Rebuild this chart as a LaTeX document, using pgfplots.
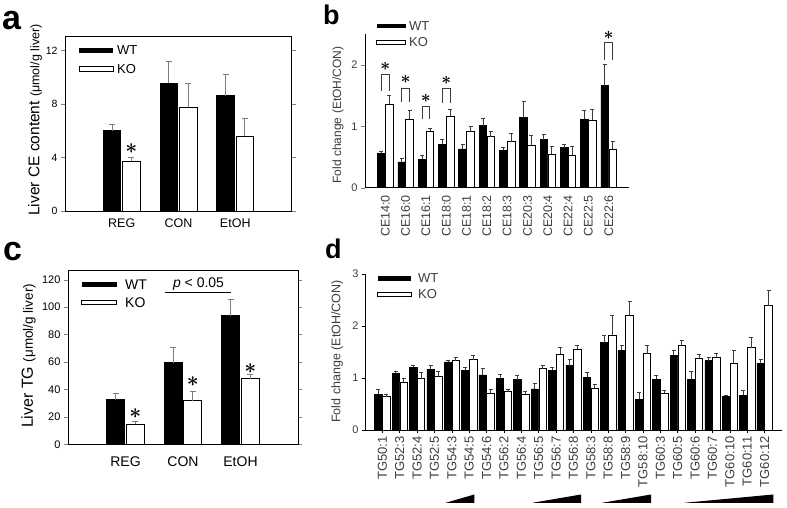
\documentclass[border=0pt]{standalone}
\usepackage{fontspec}
\setmainfont{Liberation Sans}
\usepackage{amsmath}
\usepackage{pgfplots}
\usepackage{pgfplotstable}
\pgfplotsset{compat=1.18}
\definecolor{txtgray}{RGB}{60,60,60}
\definecolor{errgray}{RGB}{125,125,125}
\newcommand\fsz[1]{\fontsize{#1}{#1}\selectfont}
\newcommand\sigstar[1]{\fontsize{#1}{#1}\selectfont$\boldsymbol{\ast}$}

\pgfplotstableread{
x wt wte ko koe
0 6.0 0.5 3.7 0.28
1 9.55 1.6 7.75 1.75
2 8.6 1.6 5.6 1.3
}\tabA

\pgfplotstableread{
x wt wte ko koe
0 32.4 4.4 14.8 1.7
1 59.6 11.0 31.9 6.6
2 93.7 11.9 47.7 3.4
}\tabC

\pgfplotstableread{
x wt wte ko koe
0 0.56 0.03 1.36 0.14
1 0.42 0.06 1.11 0.15
2 0.46 0.07 0.92 0.05
3 0.71 0.07 1.16 0.11
4 0.63 0.08 0.91 0.08
5 1.01 0.12 0.83 0.09
6 0.61 0.05 0.75 0.13
7 1.14 0.26 0.69 0.16
8 0.78 0.08 0.55 0.13
9 0.65 0.05 0.53 0.14
10 1.11 0.15 1.10 0.18
11 1.66 0.35 0.63 0.12
}\tabB

\pgfplotstableread{
x wt wte ko koe
0 0.69 0.09 0.64 0.05
1 1.09 0.03 0.92 0.07
2 1.21 0.04 0.99 0.11
3 1.17 0.07 1.03 0.10
4 1.31 0.02 1.33 0.07
5 1.15 0.05 1.35 0.09
6 1.06 0.13 0.71 0.07
7 0.99 0.08 0.74 0.04
8 0.97 0.09 0.69 0.05
9 0.79 0.11 1.18 0.07
10 1.15 0.05 1.46 0.12
11 1.24 0.12 1.55 0.08
12 1.01 0.09 0.81 0.06
13 1.68 0.14 1.82 0.38
14 1.53 0.09 2.20 0.28
15 0.59 0.14 1.47 0.15
16 0.98 0.07 0.71 0.06
17 1.44 0.09 1.62 0.10
18 0.98 0.15 1.38 0.08
19 1.33 0.06 1.40 0.07
20 0.65 0.02 1.29 0.25
21 0.67 0.09 1.58 0.21
22 1.28 0.07 2.39 0.30
}\tabD

\pgfplotsset{/pgf/number format/assume math mode=true}

\begin{document}
\begin{tikzpicture}
\useasboundingbox (0,0) rectangle (787pt,507pt);

% ---------------- panel a ----------------
\begin{axis}[
  at={(65pt,296pt)}, anchor=south west, scale only axis,
  width=227pt, height=174pt,
  xmin=-1, xmax=3, ymin=0, ymax=13, enlargelimits=false, clip=false,
  xtick={0,1,2}, xticklabels={REG,CON,EtOH}, ytick={0,4,8,12},
  tick align=outside, major tick length=4pt, xtick style={draw=none},
  axis line style={line width=1pt},
  xticklabel style={font=\fsz{12.5}},
  yticklabel style={font=\fsz{10.5}},
  ylabel={{\fsz{15.5}Liver CE content }{\fsz{12.5}(μmol/g liver)}},
  every axis y label/.style={at={(axis description cs:-0.132,0.523)}, rotate=90, anchor=center},
]
\addplot[ybar, bar width=0.31, bar shift=0pt, fill=black, draw=black, line width=0.8pt,
  error bars/.cd, y dir=plus, y explicit,
  error bar style={errgray, line width=0.9pt},
  error mark options={rotate=90, errgray, mark size=3pt, line width=0.9pt}]
  table[x expr=\thisrow{x}-0.17, y=wt, y error=wte] {\tabA};
\addplot[ybar, bar width=0.31, bar shift=0pt, fill=white, draw=black, line width=0.8pt,
  error bars/.cd, y dir=plus, y explicit,
  error bar style={errgray, line width=0.9pt},
  error mark options={rotate=90, errgray, mark size=3pt, line width=0.9pt}]
  table[x expr=\thisrow{x}+0.17, y=ko, y error=koe] {\tabA};
\node[inner sep=0pt] at (axis cs:0.17,4.63) {\sigstar{20}};
\end{axis}
\fill (79pt,453.7pt) rectangle (113pt,459.3pt);
\draw[line width=0.8pt, fill=white] (79pt,435.7pt) rectangle (113pt,440.6pt);
\node[anchor=west, inner sep=0pt] at (117pt,456.5pt) {\fsz{13}WT};
\node[anchor=west, inner sep=0pt] at (117pt,438pt) {\fsz{13}KO};
\node[anchor=base west, inner sep=0pt] at (2pt,477pt) {\fsz{34}\bfseries a};

% ---------------- panel b ----------------
\begin{axis}[
  at={(365pt,319.3pt)}, anchor=south west, scale only axis,
  width=264pt, height=153.7pt,
  xmin=-1, xmax=12, ymin=0, ymax=2.5, enlargelimits=false, clip=false,
  axis lines=left, axis line style={-, line width=0.9pt},
  xtick={0,...,11},
  xticklabels={CE14:0,CE16:0,CE16:1,CE18:0,CE18:1,CE18:2,CE18:3,CE20:3,CE20:4,CE22:4,CE22:5,CE22:6},
  ytick={0,1,2},
  tick align=outside, major tick length=4pt, xtick style={draw=none},
  xticklabel style={rotate=90, anchor=east, font=\fsz{12.5}, text=txtgray},
  yticklabel style={font=\fsz{11}, text=txtgray},
  ylabel={\fsz{12}Fold change (EtOH/CON)},
  every axis y label/.style={at={(axis description cs:-0.102,0.473)}, rotate=90, anchor=center, text=txtgray},
]
\addplot[ybar, bar width=0.37, bar shift=0pt, fill=black, draw=black, line width=0.7pt,
  error bars/.cd, y dir=plus, y explicit,
  error bar style={txtgray, line width=0.7pt},
  error mark options={rotate=90, txtgray, mark size=2pt, line width=0.7pt}]
  table[x expr=\thisrow{x}-0.195, y=wt, y error=wte] {\tabB};
\addplot[ybar, bar width=0.37, bar shift=0pt, fill=white, draw=black, line width=0.7pt,
  error bars/.cd, y dir=plus, y explicit,
  error bar style={txtgray, line width=0.7pt},
  error mark options={rotate=90, txtgray, mark size=2pt, line width=0.7pt}]
  table[x expr=\thisrow{x}+0.195, y=ko, y error=koe] {\tabB};
\draw[txtgray, line width=0.8pt] (axis cs:-0.19,1.57) -- (axis cs:-0.19,1.84) -- (axis cs:0.19,1.84) -- (axis cs:0.19,1.57);
\draw[txtgray, line width=0.8pt] (axis cs:0.81,1.40) -- (axis cs:0.81,1.62) -- (axis cs:1.19,1.62) -- (axis cs:1.19,1.40);
\draw[txtgray, line width=0.8pt] (axis cs:1.81,1.11) -- (axis cs:1.81,1.32) -- (axis cs:2.19,1.32) -- (axis cs:2.19,1.11);
\draw[txtgray, line width=0.8pt] (axis cs:2.81,1.38) -- (axis cs:2.81,1.61) -- (axis cs:3.19,1.61) -- (axis cs:3.19,1.38);
\draw[txtgray, line width=0.8pt] (axis cs:10.81,2.07) -- (axis cs:10.81,2.36) -- (axis cs:11.19,2.36) -- (axis cs:11.19,2.07);
\node[inner sep=0pt] at (axis cs:0,1.98) {\sigstar{17}};
\node[inner sep=0pt] at (axis cs:1,1.76) {\sigstar{17}};
\node[inner sep=0pt] at (axis cs:2,1.46) {\sigstar{17}};
\node[inner sep=0pt] at (axis cs:3,1.74) {\sigstar{17}};
\node[inner sep=0pt] at (axis cs:11,2.48) {\sigstar{17}};
\end{axis}
\fill (376.7pt,479pt) rectangle (405.7pt,483.3pt);
\draw[line width=0.7pt, fill=white] (376.7pt,462.7pt) rectangle (405.7pt,466.8pt);
\node[anchor=west, inner sep=0pt, text=txtgray] at (409pt,481pt) {\fsz{13}WT};
\node[anchor=west, inner sep=0pt, text=txtgray] at (409pt,464.8pt) {\fsz{13}KO};
\node[anchor=base west, inner sep=0pt] at (323pt,482pt) {\fsz{27}\bfseries b};

% ---------------- panel c ----------------
\begin{axis}[
  at={(68pt,62.7pt)}, anchor=south west, scale only axis,
  width=230pt, height=174.3pt,
  xmin=-1, xmax=3, ymin=0, ymax=127, enlargelimits=false, clip=false,
  xtick={0,1,2}, xticklabels={REG,CON,EtOH}, ytick={0,20,...,120},
  tick align=outside, major tick length=4pt, xtick style={draw=none},
  axis line style={line width=1pt},
  xticklabel style={font=\fsz{14}, yshift=-5pt},
  yticklabel style={font=\fsz{11}},
  ylabel={{\fsz{16}Liver TG }{\fsz{13.5}(μmol/g liver)}},
  every axis y label/.style={at={(axis description cs:-0.172,0.507)}, rotate=90, anchor=center},
]
\addplot[ybar, bar width=0.31, bar shift=0pt, fill=black, draw=black, line width=0.8pt,
  error bars/.cd, y dir=plus, y explicit,
  error bar style={errgray, line width=0.9pt},
  error mark options={rotate=90, errgray, mark size=3pt, line width=0.9pt}]
  table[x expr=\thisrow{x}-0.17, y=wt, y error=wte] {\tabC};
\addplot[ybar, bar width=0.31, bar shift=0pt, fill=white, draw=black, line width=0.8pt,
  error bars/.cd, y dir=plus, y explicit,
  error bar style={errgray, line width=0.9pt},
  error mark options={rotate=90, errgray, mark size=3pt, line width=0.9pt}]
  table[x expr=\thisrow{x}+0.17, y=ko, y error=koe] {\tabC};
\node[inner sep=0pt] at (axis cs:0.17,22.1) {\sigstar{22}};
\node[inner sep=0pt] at (axis cs:1.17,45.7) {\sigstar{22}};
\node[inner sep=0pt] at (axis cs:2.17,55.5) {\sigstar{22}};
\draw[line width=0.8pt] (axis cs:0.68,110.7) -- (axis cs:1.84,110.7);
\node[anchor=base, inner sep=0pt] at (axis cs:1.27,114) {\fsz{14}\textit{p} < 0.05};
\end{axis}
\fill (81.7pt,219.7pt) rectangle (116.7pt,225.3pt);
\draw[line width=0.8pt, fill=white] (81.7pt,202.2pt) rectangle (116.7pt,206.8pt);
\node[anchor=west, inner sep=0pt] at (125pt,222.5pt) {\fsz{14}WT};
\node[anchor=west, inner sep=0pt] at (125pt,204.5pt) {\fsz{14}KO};
\node[anchor=base west, inner sep=0pt] at (3pt,247pt) {\fsz{34}\bfseries c};

% ---------------- panel d ----------------
\begin{axis}[
  at={(365pt,77pt)}, anchor=south west, scale only axis,
  width=417pt, height=156pt,
  xmin=-1, xmax=23, ymin=0, ymax=3, enlargelimits=false, clip=false,
  axis lines=left, axis line style={-, line width=0.9pt},
  xtick={0,...,22},
  xticklabels={TG50:1,TG52:3,TG52:4,TG52:5,TG54:3,TG54:5,TG54:6,TG56:2,TG56:4,TG56:5,TG56:7,TG56:8,TG58:3,TG58:8,TG58:9,TG58:10,TG60:3,TG60:5,TG60:6,TG60:7,TG60:10,TG60:11,TG60:12},
  ytick={0,1,2,3},
  tick align=outside, major tick length=3pt,
  tick style={line width=0.7pt, black},
  xticklabel style={rotate=90, anchor=east, font=\fsz{13}, text=txtgray},
  yticklabel style={font=\fsz{11}, text=txtgray},
  ylabel={\fsz{12.5}Fold change (EtOH/CON)},
  every axis y label/.style={at={(axis description cs:-0.067,0.503)}, rotate=90, anchor=center, text=txtgray},
]
\addplot[ybar, bar width=0.43, bar shift=0pt, fill=black, draw=black, line width=0.7pt,
  error bars/.cd, y dir=plus, y explicit,
  error bar style={txtgray, line width=0.7pt},
  error mark options={rotate=90, txtgray, mark size=2pt, line width=0.7pt}]
  table[x expr=\thisrow{x}-0.225, y=wt, y error=wte] {\tabD};
\addplot[ybar, bar width=0.43, bar shift=0pt, fill=white, draw=black, line width=0.7pt,
  error bars/.cd, y dir=plus, y explicit,
  error bar style={txtgray, line width=0.7pt},
  error mark options={rotate=90, txtgray, mark size=2pt, line width=0.7pt}]
  table[x expr=\thisrow{x}+0.225, y=ko, y error=koe] {\tabD};
\fill (axis cs:3.64,-1.40) -- (axis cs:5.30,-1.40) -- (axis cs:5.30,-1.24) -- cycle;
\fill (axis cs:8.64,-1.40) -- (axis cs:11.44,-1.40) -- (axis cs:11.44,-1.24) -- cycle;
\fill (axis cs:12.65,-1.40) -- (axis cs:15.47,-1.40) -- (axis cs:15.47,-1.24) -- cycle;
\fill (axis cs:17.38,-1.40) -- (axis cs:22.50,-1.40) -- (axis cs:22.50,-1.24) -- cycle;
\end{axis}
\fill (377.7pt,226pt) rectangle (411pt,231.3pt);
\draw[line width=0.7pt, fill=white] (377.7pt,210.2pt) rectangle (411pt,215pt);
\node[anchor=west, inner sep=0pt, text=txtgray] at (418pt,228.7pt) {\fsz{13}WT};
\node[anchor=west, inner sep=0pt, text=txtgray] at (418pt,212.7pt) {\fsz{13}KO};
\node[anchor=base west, inner sep=0pt] at (325pt,249pt) {\fsz{27}\bfseries d};
\end{tikzpicture}
\end{document}
